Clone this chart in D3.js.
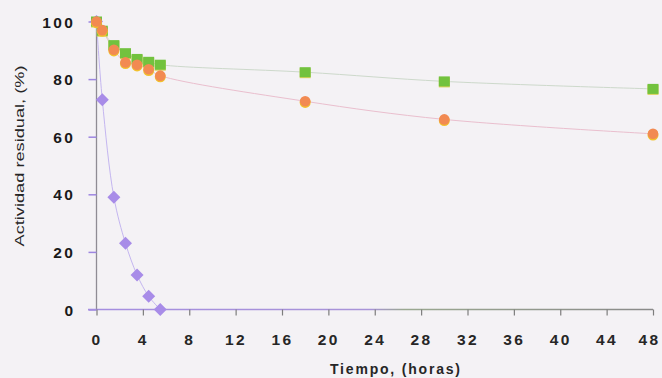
<!DOCTYPE html>
<html>
<head>
<meta charset="utf-8">
<script src="https://cdn.jsdelivr.net/npm/d3@7"></script>
<style>
  html, body { margin: 0; padding: 0; background: #f4f2f5; }
  svg { display: block; }
</style>
</head>
<body>
<svg id="chart" width="662" height="378"></svg>
<script>
// Time points (hours) and residual activity (%) for each series
const hoursA = [0, 0.5, 1.5, 2.5, 3.5, 4.5, 5.5, 18, 30, 48];
const greenVals = [100, 96.8, 91.8, 89, 87, 86, 85, 82.4, 79.2, 76.6];
const orangeVals = [100, 97, 90.2, 85.8, 85, 83.4, 81.2, 72.3, 66, 61];
const hoursB = [0, 0.5, 1.5, 2.5, 3.5, 4.5, 5.5];
const purpleVals = [100, 72.8, 39, 23, 12, 4.6, 0];
const xTicks = [0, 4, 8, 12, 16, 20, 24, 28, 32, 36, 40, 44, 48];
const yTicks = [0, 20, 40, 60, 80, 100];

const svg = d3.select("#chart");
const x = d3.scaleLinear().domain([0, 48]).range([96.5, 653]);
const y = d3.scaleLinear().domain([0, 100]).range([309.5, 21.5]);

const font = "'Liberation Sans', Arial, sans-serif";

// gradient for the baseline: purple series runs along zero up to ~28 h
const defs = svg.append("defs");
const grad = defs.append("linearGradient").attr("id", "base")
  .attr("gradientUnits", "userSpaceOnUse")
  .attr("x1", 88).attr("x2", 653).attr("y1", 0).attr("y2", 0);
grad.append("stop").attr("offset", "0").attr("stop-color", "#a58ee0");
grad.append("stop").attr("offset", "0.5").attr("stop-color", "#a894d8");
grad.append("stop").attr("offset", "0.56").attr("stop-color", "#9aa890");
grad.append("stop").attr("offset", "1").attr("stop-color", "#8a8a8a");

// Y axis
const yAxis = svg.append("g").attr("transform", `translate(${x(0)},0)`)
  .call(d3.axisLeft(y).tickValues(yTicks).tickSize(8).tickPadding(13).tickFormat(d3.format("d")));
yAxis.select(".domain").attr("stroke", "#8f8c94").attr("stroke-width", 1.3).attr("d", `M0,${y(0)}V${y(100)}`);
yAxis.selectAll(".tick line").attr("stroke", "#9d86e0").attr("stroke-width", 1.5);
yAxis.selectAll(".tick text")
  .attr("font-family", font).attr("font-weight", "bold").attr("font-size", 15.5)
  .attr("letter-spacing", "2.5px").attr("fill", "#1a1a1a").attr("dy", "0.36em");

// X axis
const xAxis = svg.append("g").attr("transform", `translate(0,${y(0)})`)
  .call(d3.axisBottom(x).tickValues(xTicks).tickSize(6).tickPadding(18).tickFormat(d3.format("d")));
xAxis.select(".domain").attr("stroke", "url(#base)").attr("stroke-width", 1.6).attr("d", `M88,0H${x(48)}`);
xAxis.selectAll(".tick line").attr("stroke", "#7d7d7d").attr("stroke-width", 1.2);
xAxis.selectAll(".tick text")
  .attr("font-family", font).attr("font-weight", "bold").attr("font-size", 15.5)
  .attr("letter-spacing", "2.5px").attr("fill", "#262626")
  .attr("dx", d => d === 48 ? "-4px" : "0px");

// Axis titles
svg.append("text")
  .attr("x", 395).attr("y", 374)
  .attr("text-anchor", "middle")
  .attr("font-family", font).attr("font-weight", "bold").attr("font-size", 14)
  .attr("textLength", 130).attr("lengthAdjust", "spacing")
  .attr("fill", "#262626")
  .text("Tiempo, (horas)");

svg.append("text")
  .attr("transform", "translate(24,156) rotate(-90)")
  .attr("text-anchor", "middle")
  .attr("font-family", font).attr("font-size", 12.5)
  .attr("textLength", 181).attr("lengthAdjust", "spacingAndGlyphs")
  .attr("fill", "#262626")
  .text("Actividad residual, (%)");

// Smoothed connecting lines
const line = (xs) => d3.line().x((d, i) => x(xs[i])).y(d => y(d)).curve(d3.curveCatmullRom.alpha(0.5));

svg.append("path").datum(purpleVals).attr("d", line(hoursB))
  .attr("fill", "none").attr("stroke", "#c4b6f0").attr("stroke-width", 1);
svg.append("path").datum(orangeVals).attr("d", line(hoursA))
  .attr("fill", "none").attr("stroke", "#eabfce").attr("stroke-width", 1);
svg.append("path").datum(greenVals).attr("d", line(hoursA))
  .attr("fill", "none").attr("stroke", "#cdd9cb").attr("stroke-width", 1);

// Purple diamonds
svg.append("g").selectAll("path").data(purpleVals).join("path")
  .attr("transform", (d, i) => `translate(${x(hoursB[i])},${y(d)})`)
  .attr("d", "M0,-6.5L6.5,0L0,6.5L-6.5,0Z")
  .attr("fill", "#a88ce8");

// Green squares (with faint yellow rim)
const gG = svg.append("g");
gG.selectAll("rect.rim").data(greenVals).join("rect").attr("class", "rim")
  .attr("x", (d, i) => x(hoursA[i]) - 5.5).attr("y", d => y(d) - 4)
  .attr("width", 11).attr("height", 10).attr("fill", "#d9d25a");
gG.selectAll("rect.sq").data(greenVals).join("rect").attr("class", "sq")
  .attr("x", (d, i) => x(hoursA[i]) - 5.5).attr("y", d => y(d) - 5)
  .attr("width", 11).attr("height", 10).attr("fill", "#72c23e");

// Orange circles (with yellow lower rim)
const gO = svg.append("g");
gO.selectAll("circle.rim").data(orangeVals).join("circle").attr("class", "rim")
  .attr("cx", (d, i) => x(hoursA[i])).attr("cy", d => y(d) + 1.2)
  .attr("r", 5.5).attr("fill", "#f2c12e");
gO.selectAll("circle.dot").data(orangeVals).join("circle").attr("class", "dot")
  .attr("cx", (d, i) => x(hoursA[i])).attr("cy", d => y(d))
  .attr("r", 5.3).attr("fill", "#f28a52");
</script>
</body>
</html>
